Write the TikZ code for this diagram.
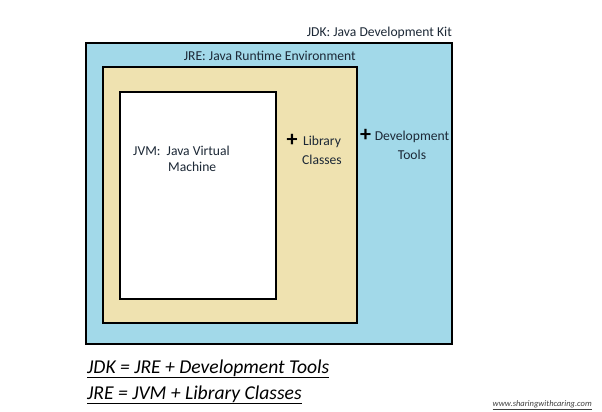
\documentclass[tikz,border=0pt]{standalone}
\usepackage{fontspec}
\setmainfont{Carlito}
\usetikzlibrary{positioning,calc}
\definecolor{jdkblue}{HTML}{A2D9E9}
\definecolor{jrebeige}{HTML}{EFE2B0}
\definecolor{labeltext}{HTML}{1C2836}
\tikzset{
  layerbox/.style={draw=black, line width=1.6pt, inner sep=0pt},
  layerlabel/.style={font=\fontsize{13.6}{15}\selectfont, text=labeltext, inner sep=0pt},
  plusmark/.style={font=\fontsize{22}{22}\selectfont\bfseries, text=black, inner sep=0pt},
  formula/.style={font=\fontsize{19.6}{22}\selectfont\itshape, text=black, inner sep=0pt, anchor=base west},
  weblink/.style={font=\fontsize{8.5}{9}\selectfont\itshape, text=black!75, inner sep=0pt}
}
\newcommand{\uline}[1]{\underline{#1}}
\begin{document}
\begin{tikzpicture}[x=1pt,y=-1pt]
        \useasboundingbox[fill=white] (0,0) rectangle (602,412);
        % nested boxes
        \node[layerbox, fill=jdkblue, minimum width=366pt, minimum height=301pt] (jdk) at (269,193.5) {};
        \node[layerbox, fill=jrebeige, minimum width=254pt, minimum height=256pt] (jre) at (230,195) {};
        \node[layerbox, fill=white, minimum width=156pt, minimum height=207pt] (jvm) at (198,195.5) {};
        % box titles
        \node[layerlabel, anchor=base east] (jdktitle) at (452,37) {JDK: Java Development Kit};
        \node[layerlabel, anchor=base east] (jretitle) at (356,60) {JRE: Java Runtime Environment};
        \node[layerlabel, anchor=base west] (jvmtitle) at (133,155) {JVM:\ \ Java Virtual};
        \node[layerlabel, anchor=base west] (jvmtitle2) at (168,171) {Machine};
        % additions
        \node[plusmark] (libplus) at (292,140) {+};
        \node[layerlabel, anchor=base] (libtext) at (322,145) {Library};
        \node[layerlabel, anchor=base] (libtext2) at (322,164) {Classes};
        \node[plusmark] (devplus) at (365.5,135) {+};
        \node[layerlabel, anchor=base] (devtext) at (412,140) {Development};
        \node[layerlabel, anchor=base] (devtext2) at (412,159) {Tools};
        % summary
        \node[formula] (eqjdk) at (87,373) {\uline{JDK = JRE + Development Tools}};
        \node[formula] (eqjre) at (87,399) {\uline{JRE = JVM + Library Classes}};
        \node[weblink, anchor=base east] (site) at (592,406) {\uline{www.sharingwithcaring.com}};
      \end{tikzpicture}
\end{document}
